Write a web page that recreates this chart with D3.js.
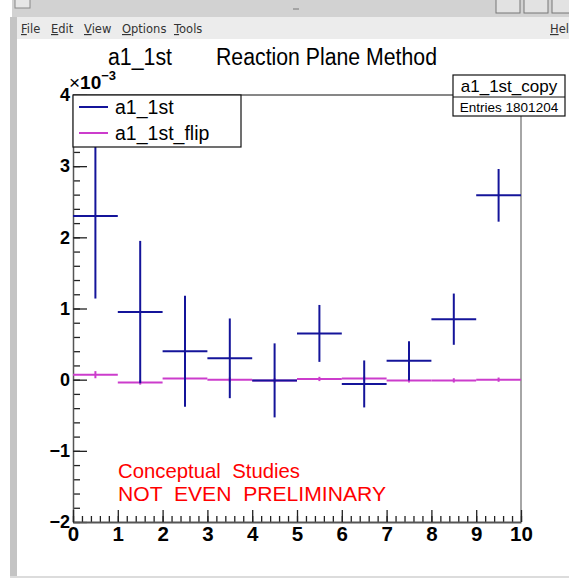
<!DOCTYPE html>
<html>
<head>
<meta charset="utf-8">
<title>a1_1st</title>
<script src="https://cdn.jsdelivr.net/npm/d3@7"></script>
<style>
  body { margin: 0; background: #fff; }
  svg text { font-family: "Liberation Sans", Arial, sans-serif; }
</style>
</head>
<body>
<svg id="drawingplace" width="569" height="578"></svg>
<script>
// data (y values in units of 1e-3)
let binEdges = [0, 1, 2, 3, 4, 5, 6, 7, 8, 9, 10]
let a1Values = [2.30, 0.95, 0.40, 0.30, -0.01, 0.65, -0.06, 0.265, 0.85, 2.59]
let a1Errors = [1.16, 1.00, 0.78, 0.56, 0.52, 0.40, 0.33, 0.275, 0.36, 0.37]
let flipValues = [0.07, -0.04, 0.015, 0.00, -0.01, 0.01, 0.015, -0.01, -0.01, 0.00]
let flipErrors = [0.05, 0.03, 0.03, 0.03, 0.03, 0.03, 0.03, 0.03, 0.03, 0.03]
let xTicks = [0, 1, 2, 3, 4, 5, 6, 7, 8, 9, 10]
let yTicks = [-2, -1, 0, 1, 2, 3, 4]
let legendNames = ["a1_1st", "a1_1st_flip"]
let menuItems = ["File", "Edit", "View", "Options", "Tools"]

let svg = d3.select("#drawingplace")

// --- window chrome ---
svg.append("rect").attr("x", 12).attr("y", 0).attr("width", 557).attr("height", 17).attr("fill", "#d2d2d2")
svg.append("rect").attr("x", 15).attr("y", -2).attr("width", 15).attr("height", 10)
  .attr("fill", "#e6e6e6").attr("stroke", "#888")
svg.append("line").attr("x1", 293).attr("x2", 299).attr("y1", 9).attr("y2", 9).attr("stroke", "#777")
;[496, 524, 552].forEach(x => {
  svg.append("rect").attr("x", x).attr("y", -3).attr("width", 24).attr("height", 16)
    .attr("fill", "#e2e2e2").attr("stroke", "#777")
})
svg.append("rect").attr("x", 12).attr("y", 17).attr("width", 557).attr("height", 22).attr("fill", "#ececec")
svg.append("rect").attr("x", 10).attr("y", 17).attr("width", 7).attr("height", 561).attr("fill", "#c4c4c4")
svg.append("rect").attr("x", 10).attr("y", 576).attr("width", 559).attr("height", 2).attr("fill", "#dcdcdc")

let menuX = [21, 51, 84, 122, 174]
menuItems.forEach((m, i) => {
  let t = svg.append("text").attr("x", menuX[i]).attr("y", 33)
    .style("font-family", "DejaVu Sans").style("font-size", "11.5px").attr("fill", "#333")
  t.append("tspan").attr("text-decoration", "underline").text(m[0])
  t.append("tspan").text(m.slice(1))
})
// "Help" is cut by the window edge in the original
let help = svg.append("text").attr("x", 550).attr("y", 33)
  .style("font-family", "DejaVu Sans").style("font-size", "11.5px").attr("fill", "#333")
help.append("tspan").attr("text-decoration", "underline").text("H")
help.append("tspan").text("elp")

// --- plot frame ---
let frame = {left: 73, right: 521, top: 95, bottom: 522}
let x = d3.scaleLinear().domain([0, 10]).range([frame.left, frame.right])
let y = d3.scaleLinear().domain([-2, 4]).range([frame.bottom, frame.top])

svg.append("line").attr("x1", frame.left).attr("x2", frame.right).attr("y1", frame.top).attr("y2", frame.top)
  .attr("stroke", "#111").attr("stroke-width", 1.2)
svg.append("line").attr("x1", frame.right).attr("x2", frame.right).attr("y1", frame.top).attr("y2", frame.bottom)
  .attr("stroke", "#888").attr("stroke-width", 1.5)

// title
svg.append("text").attr("x", 108).attr("y", 65).style("font-size", "23px")
  .attr("textLength", 64).attr("lengthAdjust", "spacingAndGlyphs").text("a1_1st")
svg.append("text").attr("x", 216).attr("y", 65).style("font-size", "23px")
  .attr("textLength", 221).attr("lengthAdjust", "spacingAndGlyphs").text("Reaction Plane Method")

// y axis: minor then major
svg.append("g").attr("transform", `translate(${frame.left},0)`)
  .call(d3.axisLeft(y).ticks(30).tickSize(-7).tickFormat(""))
  .call(g => g.select(".domain").remove())
  .selectAll("line").attr("stroke", "#222").attr("stroke-width", 1.3)
let yAxis = svg.append("g").attr("transform", `translate(${frame.left},0)`)
  .call(d3.axisLeft(y).tickValues(yTicks).tickFormat(d3.format("d")).tickSize(-14).tickPadding(3).tickSizeOuter(0))
yAxis.select(".domain").attr("stroke", "#555").attr("stroke-width", 1.5)
yAxis.selectAll("line").attr("stroke", "#222").attr("stroke-width", 1.3)
yAxis.selectAll("text").style("font-family", "Liberation Sans").style("font-size", "18px")
  .style("font-weight", "bold").attr("fill", "#000")

// x axis: minor then major
svg.append("g").attr("transform", `translate(0,${frame.bottom})`)
  .call(d3.axisBottom(x).ticks(50).tickSize(-6).tickFormat(""))
  .call(g => g.select(".domain").remove())
  .selectAll("line").attr("stroke", "#222").attr("stroke-width", 1.3)
let xAxis = svg.append("g").attr("transform", `translate(0,${frame.bottom})`)
  .call(d3.axisBottom(x).tickValues(xTicks).tickSize(-12).tickPadding(4).tickSizeOuter(0))
xAxis.select(".domain").attr("stroke", "#555").attr("stroke-width", 1.8)
xAxis.selectAll("line").attr("stroke", "#222").attr("stroke-width", 1.3)
xAxis.selectAll("text").style("font-family", "Liberation Sans").style("font-size", "20.5px")
  .style("font-weight", "bold").attr("fill", "#000")

// exponent label
let expo = svg.append("text").attr("x", 69).attr("y", 89).style("font-size", "19px")
expo.append("tspan").text("×")
expo.append("tspan").style("font-weight", "bold").text("10")
expo.append("tspan").attr("dy", -9).style("font-size", "13px").style("font-weight", "bold").text("\u22123")

// --- histograms with error bars ---
function drawHist(values, errors, color) {
  let bins = values.map((v, i) => ({lo: binEdges[i], hi: binEdges[i + 1], v: v, e: errors[i]}))
  let g = svg.append("g").attr("stroke", color).attr("stroke-width", 2)
  g.selectAll("line.h").data(bins).enter().append("line").attr("class", "h")
    .attr("x1", d => x(d.lo)).attr("x2", d => x(d.hi))
    .attr("y1", d => y(d.v)).attr("y2", d => y(d.v))
  g.selectAll("line.v").data(bins).enter().append("line").attr("class", "v")
    .attr("x1", d => x((d.lo + d.hi) / 2)).attr("x2", d => x((d.lo + d.hi) / 2))
    .attr("y1", d => y(d.v - d.e)).attr("y2", d => y(d.v + d.e))
}
drawHist(flipValues, flipErrors, "#cc3ccc")
drawHist(a1Values, a1Errors, "#14149a")

// watermark text
svg.append("text").attr("x", 118).attr("y", 478).attr("fill", "#ff0000").style("font-size", "21px")
  .style("white-space", "pre").attr("textLength", 182).attr("lengthAdjust", "spacingAndGlyphs")
  .text("Conceptual  Studies")
svg.append("text").attr("x", 118).attr("y", 501).attr("fill", "#ff0000").style("font-size", "21px")
  .style("white-space", "pre").attr("textLength", 268).attr("lengthAdjust", "spacingAndGlyphs")
  .text("NOT  EVEN  PRELIMINARY")

// --- legend ---
let colors = ["#14149a", "#cc3ccc"]
svg.append("rect").attr("x", frame.left).attr("y", frame.top).attr("width", 168).attr("height", 52)
  .attr("fill", "#fff").attr("stroke", "#111").attr("stroke-width", 1.2)
let leg = svg.selectAll("g.leg").data(legendNames).enter().append("g").attr("class", "leg")
  .attr("transform", (d, i) => `translate(0,${107 + i * 26})`)
leg.append("line").attr("x1", 79).attr("x2", 108).attr("y1", 0).attr("y2", 0)
  .attr("stroke", (d, i) => colors[i]).attr("stroke-width", 2)
leg.append("text").attr("x", 115).attr("y", 7).style("font-size", "19.5px").text(d => d)

// --- stat box ---
svg.append("rect").attr("x", 453).attr("y", 75).attr("width", 112).attr("height", 41)
  .attr("fill", "#fff").attr("stroke", "#111").attr("stroke-width", 1.2)
svg.append("line").attr("x1", 453).attr("x2", 565).attr("y1", 97).attr("y2", 97).attr("stroke", "#111")
svg.append("text").attr("x", 509).attr("y", 92).attr("text-anchor", "middle").style("font-size", "17px").text("a1_1st_copy")
svg.append("text").attr("x", 509).attr("y", 112).attr("text-anchor", "middle").style("font-size", "13.5px").text("Entries 1801204")
</script>
</body>
</html>
